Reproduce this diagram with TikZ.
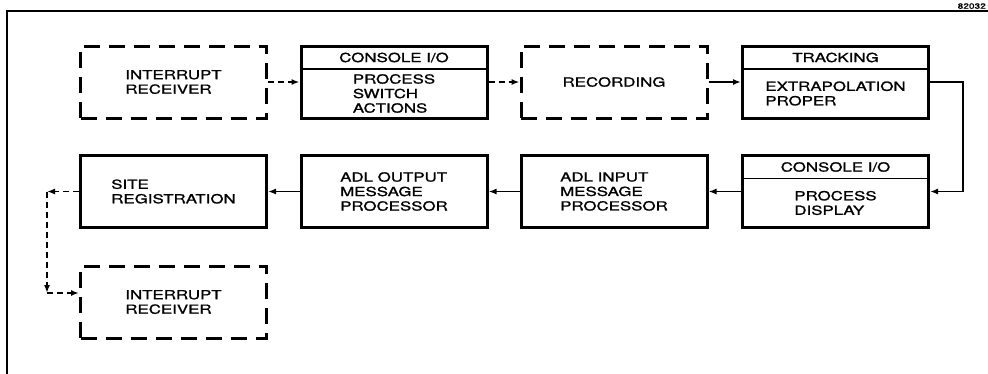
\documentclass[tikz,border=0pt]{standalone}
\usepackage{fontspec}
\setmainfont{TeX Gyre Heros}[FakeStretch=1.35, FakeBold=1.3]
\usetikzlibrary{arrows.meta}

\begin{document}
\begin{tikzpicture}[x=1pt,y=-1pt,
        block/.style={draw, line width=3pt, minimum width=186pt, minimum height=72pt,
            inner sep=0pt, align=left, font=\fontsize{12.5}{14.5}\selectfont},
        dblock/.style={block, dash pattern=on 16pt off 9pt},
        head/.style={minimum width=186pt, minimum height=23pt, inner sep=0pt, outer sep=0pt,
            font=\fontsize{12.5}{14.5}\selectfont},
        txt/.style={inner sep=0pt, align=left, font=\fontsize{12.5}{14.5}\selectfont},
        divider/.style={line width=1.6pt},
        flow/.style={line width=1.6pt, -{Latex[length=8pt,width=6pt]}},
        dflow/.style={flow, dash pattern=on 6pt off 4pt}]
        \useasboundingbox (0,0) rectangle (988,373);
        \clip (0,0) rectangle (988,373);

        % frame and figure number
        \draw[line width=2pt] (7,380) -- (7,11) -- (995,11);
        \node[anchor=south east, inner sep=0pt, font=\fontsize{7.5}{7.5}\selectfont] (fignum) at (986,9) {82032};

        % first row
        \node[dblock] (ir1) at (173.5,82) {INTERRUPT\\RECEIVER};
        \node[block] (con1) at (394,82) {};
        \node[head] (con1h) at (394,57.5) {CONSOLE I/O};
        \draw[divider] (con1h.south west) -- (con1h.south east);
        \node[txt] (con1t) at (394,93.5) {PROCESS\\SWITCH\\ACTIONS};
        \node[dblock] (rec) at (614,82) {RECORDING};
        \node[block] (trk) at (835.5,82) {};
        \node[head] (trkh) at (835.5,57.5) {TRACKING};
        \draw[divider] (trkh.south west) -- (trkh.south east);
        \node[txt] (trkt) at (835.5,93.5) {EXTRAPOLATION\\PROPER};

        % second row
        \node[block] (disp) at (835.5,191.5) {};
        \node[head] (disph) at (835.5,167) {CONSOLE I/O};
        \draw[divider] (disph.south west) -- (disph.south east);
        \node[txt] (dispt) at (835.5,203) {PROCESS\\DISPLAY};
        \node[block] (adlin) at (614,191.5) {ADL INPUT\\MESSAGE\\PROCESSOR};
        \node[block] (adlout) at (394,191.5) {ADL OUTPUT\\MESSAGE\\PROCESSOR};
        \node[block] (site) at (173.5,191.5) {SITE\\REGISTRATION};

        % third row
        \node[dblock] (ir2) at (173.5,302) {INTERRUPT\\RECEIVER};

        \coordinate (bend) at (963,82);
        \coordinate (s1) at (47,191.5);
        \coordinate (s2) at (47,293);

        \draw[dflow] (ir1) -- (con1);
        \draw[dflow] (con1) -- (rec);
        \draw[flow] (rec) -- (trk);
        \draw[flow] (trk) -- (bend) |- (disp);
        \draw[flow] (disp) -- (adlin);
        \draw[flow] (adlin) -- (adlout);
        \draw[flow] (adlout) -- (site);
        \draw[dflow] (site) -- (s1);
        \draw[dflow] (s1) -- (s2);
        \draw[dflow] (s2) -- (s2 -| ir2.west);

    \end{tikzpicture}
\end{document}
